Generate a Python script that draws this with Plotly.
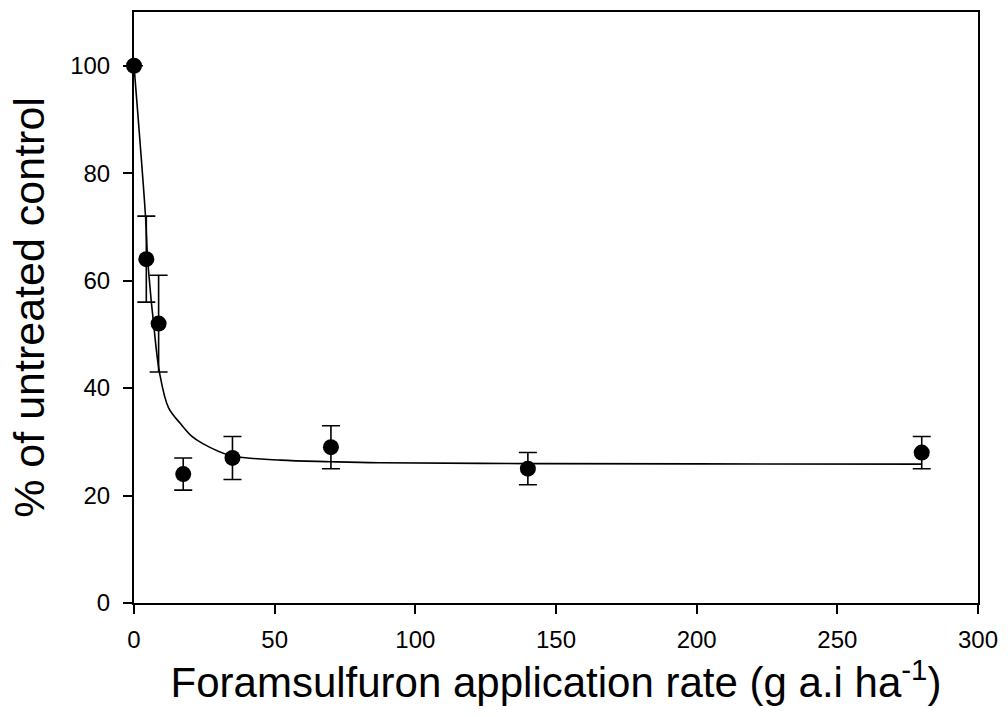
import plotly.graph_objects as go

# Observed data (means and standard errors)
rates = [0, 4.375, 8.75, 17.5, 35, 70, 140, 280]
percent = [100, 64, 52, 24, 27, 29, 25, 28]
errors = [0, 8, 9, 3, 4, 4, 3, 3]

# Fitted curve
curve_x = [0, 4.1, 4.7, 5.3, 7.0, 9.1, 12.3, 16.5, 20.6, 24, 34, 52, 70, 87, 140, 200, 280]
curve_y = [100, 71.9, 65.4, 61, 51.8, 42.8, 36.3, 33.4, 31.0, 29.8, 27.5, 26.6, 26.3, 26.1, 25.95, 25.9, 25.85]

x_ticks = [0, 50, 100, 150, 200, 250, 300]
y_ticks = [0, 20, 40, 60, 80, 100]

FONT = "Liberation Sans, Arial, sans-serif"

fig = go.Figure()
fig.add_trace(go.Scatter(
    x=curve_x, y=curve_y, mode="lines",
    line=dict(color="black", width=1.6, shape="spline"),
    hoverinfo="skip", showlegend=False, cliponaxis=False,
))
fig.add_trace(go.Scatter(
    x=rates, y=percent, mode="markers",
    marker=dict(color="black", size=16),
    error_y=dict(type="data", array=errors, visible=True,
                 color="black", thickness=1.6, width=9),
    showlegend=False, cliponaxis=False,
))

fig.update_layout(
    width=1008, height=717,
    margin=dict(l=134, r=28, t=10, b=114),
    paper_bgcolor="white", plot_bgcolor="white",
    font=dict(family=FONT, color="black"),
)
fig.update_xaxes(
    range=[0, 300], tickvals=x_ticks, ticktext=[str(v) for v in x_ticks],
    showgrid=False, zeroline=False,
    showline=True, linecolor="black", linewidth=2, mirror=True,
    ticks="outside", ticklen=9, tickwidth=2, tickcolor="black",
    tickfont=dict(size=24, family=FONT), ticklabelstandoff=5,
    title=dict(text="Foramsulfuron application rate (g a.i ha<sup>-1</sup>)",
               font=dict(size=42, family=FONT), standoff=14),
)
fig.update_yaxes(
    range=[0, 110], tickvals=y_ticks, ticktext=[str(v) for v in y_ticks],
    showgrid=False, zeroline=False,
    showline=True, linecolor="black", linewidth=2, mirror=True,
    ticks="outside", ticklen=9, tickwidth=2, tickcolor="black",
    tickfont=dict(size=24, family=FONT), ticklabelstandoff=8,
    title=dict(text="% of untreated control",
               font=dict(size=43, family=FONT), standoff=12),
)

fig.write_html("out.html")
